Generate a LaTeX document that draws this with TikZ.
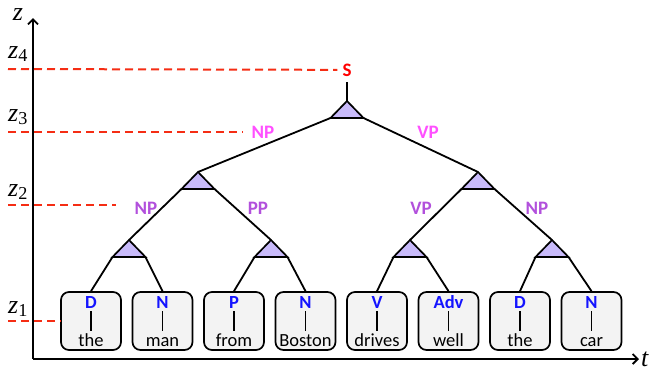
\documentclass[tikz,border=0pt]{standalone}
\usepackage{fontspec}
\setmainfont{Carlito}
\newfontfamily\zfont{Liberation Serif}
\usetikzlibrary{shapes.geometric, arrows.meta}

\definecolor{guidered}{RGB}{245,45,20}
\definecolor{toppink}{RGB}{255,80,255}
\definecolor{subpurple}{RGB}{178,80,220}
\definecolor{posblue}{RGB}{20,20,255}
\definecolor{trifill}{RGB}{200,186,250}
\definecolor{boxgray}{RGB}{243,243,243}

\tikzset{
  wordbox/.style={draw, line width=1.7pt, rounded corners=8pt, fill=boxgray, minimum width=60pt, minimum height=58pt, inner sep=0pt},
  posl/.style={font=\bfseries\fontsize{18.5}{18.5}\selectfont, text=posblue, text height=12pt, text depth=0pt, inner sep=3pt, anchor=base},
  wordl/.style={font=\fontsize{18.5}{18.5}\selectfont, text height=13pt, text depth=0pt, inner sep=2pt, anchor=base},
  tri/.style={isosceles triangle, isosceles triangle stretches, shape border rotate=90, draw, line width=1.7pt, fill=trifill, minimum width=33pt, minimum height=17pt, inner sep=0pt, outer sep=0pt, anchor=apex},
  branch/.style={line width=1.8pt},
  guide/.style={guidered, line width=2pt, dash pattern=on 8pt off 5pt},
  catl/.style={font=\bfseries\fontsize{19}{19}\selectfont},
  zl/.style={font=\zfont\fontsize{26}{26}\selectfont}
}

\begin{document}
\begin{tikzpicture}[x=1pt, y=-1pt]
\useasboundingbox (0,0) rectangle (656,368);
% 坐标轴
\coordinate (o) at (33,359);
\coordinate (ztop) at (33,18);
\coordinate (tend) at (639,359);
\draw [line width=1.8pt, -{Straight Barb[length=5pt, width=10pt]}] (o) -- (ztop);
\draw [line width=1.8pt, -{Straight Barb[length=5pt, width=10pt]}] (o) -- (tend);
\node [zl] (zlab) at (18,15) {\textit{z}};
\node [zl, anchor=west, inner sep=2pt] (tlab) at (tend) {\textit{t}};

% 树
\node [tri] (s-t) at (347,101) {};
\node [tri] (np-t) at (198,172) {};
\node [tri] (vp-t) at (478,172) {};
\node [tri] (np1-t) at (129,240) {};
\node [tri] (pp-t) at (271,240) {};
\node [tri] (vp1-t) at (410,240) {};
\node [tri] (np2-t) at (552,240) {};

\foreach \p/\w [count=\i] in {D/the, N/man, P/from, N/Boston, V/drives, Adv/well, D/the, N/car} {
  \pgfmathsetmacro\cx{19.5+71.5*\i}
  \node [wordbox] (b\i) at (\cx,321) {};
  \node [posl] (p\i) at (\cx,308) {\p};
  \node [wordl] (w\i) at (\cx,346) {\w};
  \draw [line width=1.5pt] (p\i.south) -- (w\i.north);
}

\node [catl, text=red, anchor=base, inner xsep=5pt, inner ysep=6pt] (s) at (347,76) {S};
\draw [branch] (s-t.apex) -- (s.south);
\draw [branch] (s-t.left corner) -- (np-t.apex);
\draw [branch] (s-t.right corner) -- (vp-t.apex);
\draw [branch] (np-t.left corner) -- (np1-t.apex);
\draw [branch] (np-t.right corner) -- (pp-t.apex);
\draw [branch] (vp-t.left corner) -- (vp1-t.apex);
\draw [branch] (vp-t.right corner) -- (np2-t.apex);
\draw [branch] (np1-t.left corner) -- (b1.north);
\draw [branch] (np1-t.right corner) -- (b2.north);
\draw [branch] (pp-t.left corner) -- (b3.north);
\draw [branch] (pp-t.right corner) -- (b4.north);
\draw [branch] (vp1-t.left corner) -- (b5.north);
\draw [branch] (vp1-t.right corner) -- (b6.north);
\draw [branch] (np2-t.left corner) -- (b7.north);
\draw [branch] (np2-t.right corner) -- (b8.north);

% 虚线
\draw [guide] (8,69) -- (s.west);
\draw [guide] (8,132) -- (243,132);
\draw [guide] (8,205) -- (116,205);
\draw [guide] (8,321) -- (b1.west);

%Text
\node [catl, text=toppink] (np-l) at (263,132) {NP};
\node [catl, text=toppink] (vp-l) at (428,132) {VP};
\node [catl, text=subpurple] (np1-l) at (146,208) {NP};
\node [catl, text=subpurple] (pp-l) at (258,208) {PP};
\node [catl, text=subpurple] (vp1-l) at (421,208) {VP};
\node [catl, text=subpurple] (np2-l) at (537,208) {NP};
\node [zl] (z4) at (18,54) {\textit{z}\textsubscript{4}};
\node [zl] (z3) at (18,117) {\textit{z}\textsubscript{3}};
\node [zl] (z2) at (18,192) {\textit{z}\textsubscript{2}};
\node [zl] (z1) at (18,309) {\textit{z}\textsubscript{1}};
\end{tikzpicture}
\end{document}
